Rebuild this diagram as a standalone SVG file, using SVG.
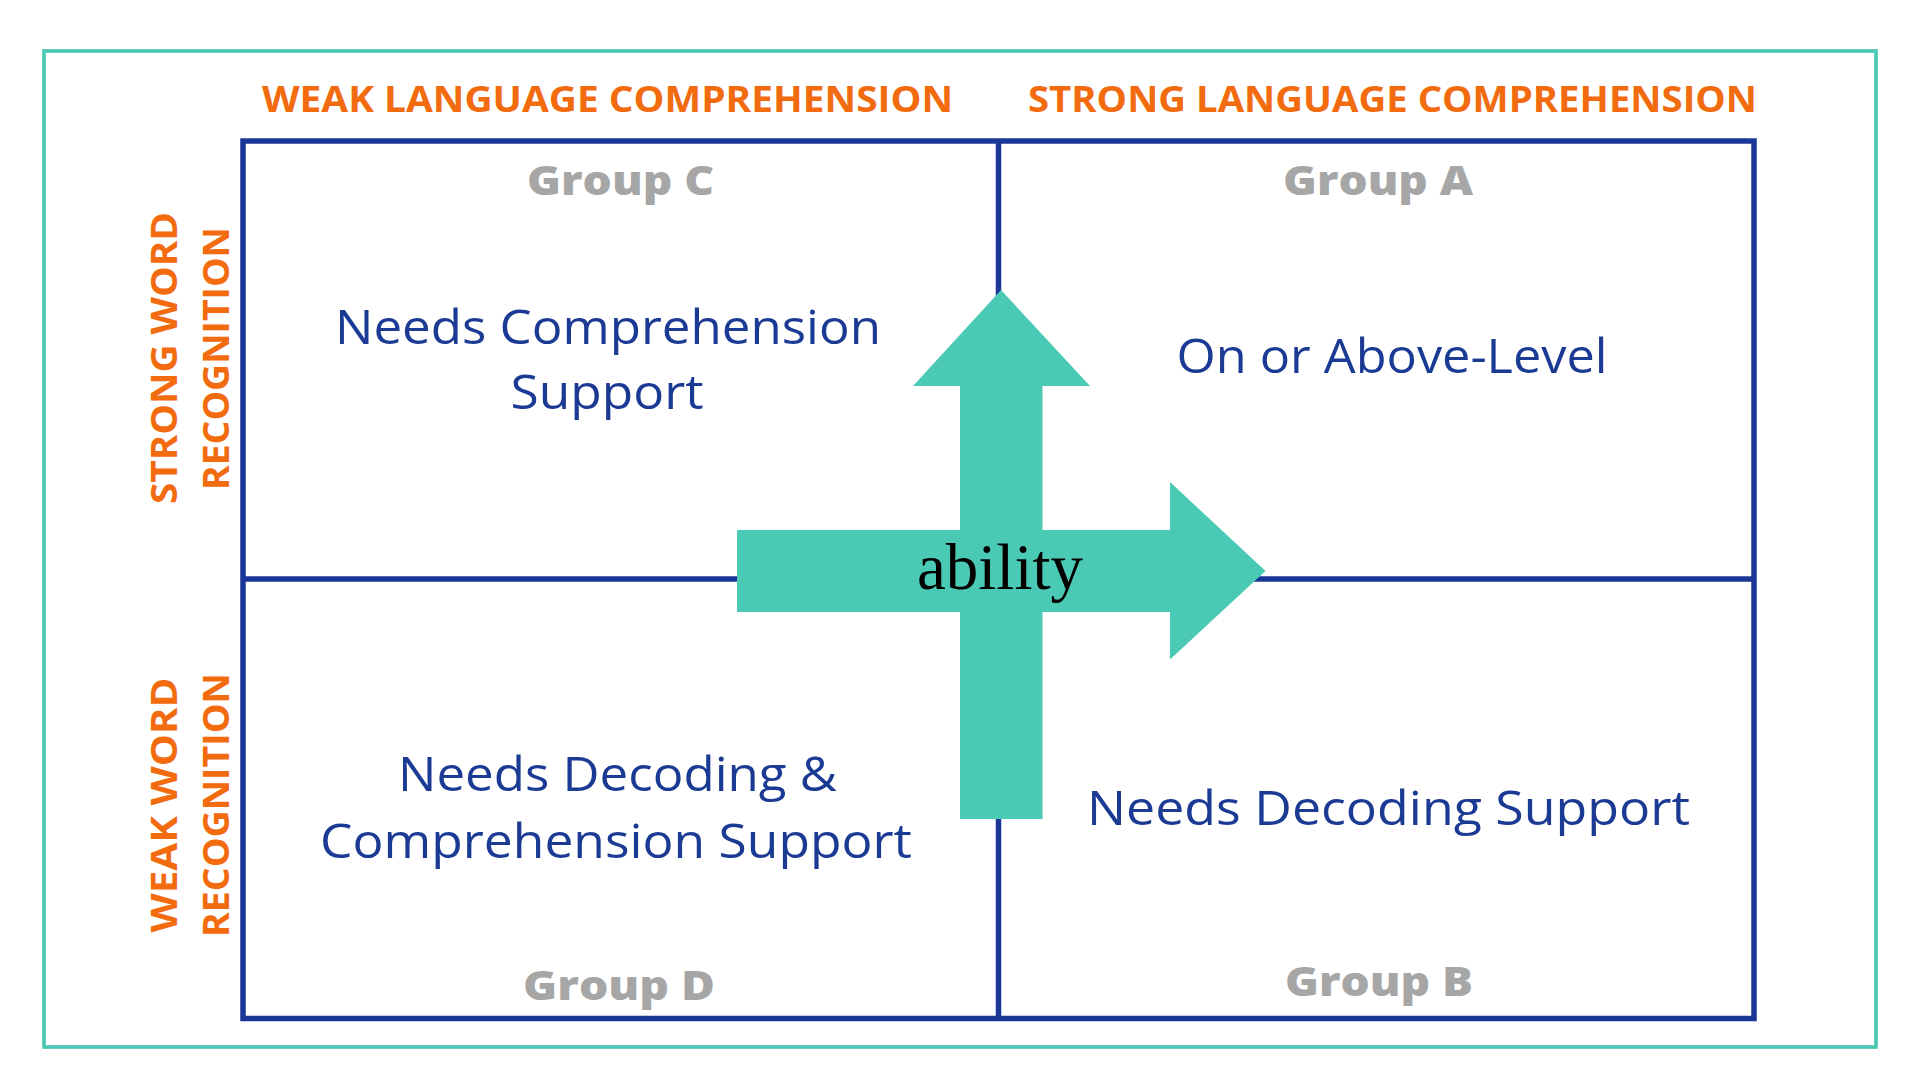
<svg xmlns="http://www.w3.org/2000/svg" width="1920" height="1080" viewBox="0 0 1920 1080">
<style>
.hdr{font-family:"Open Sans","Liberation Sans",sans-serif;font-weight:700;font-size:36px;fill:#F26B0E;text-anchor:middle}
.grp{font-family:"Open Sans","Liberation Sans",sans-serif;font-weight:800;font-size:40px;fill:#A6A6A6;text-anchor:middle}
.body{font-family:"Open Sans","Liberation Sans",sans-serif;font-weight:400;font-size:47px;fill:#1B3A94;text-anchor:middle}
.grid{fill:none;stroke:#1B3796;stroke-width:5.5}
.arrow{fill:#4AC9B4}
</style>
<rect x="0" y="0" width="1920" height="1080" fill="#FFFFFF"/>
<rect id="frame" x="44" y="51" width="1832" height="996" fill="none" stroke="#4CC9B5" stroke-width="3.7"/>

<g id="axes">
<text class="hdr" x="607.5" y="111.5" textLength="691" lengthAdjust="spacingAndGlyphs">WEAK LANGUAGE COMPREHENSION</text>
<text class="hdr" x="1392.5" y="111.5" textLength="729" lengthAdjust="spacingAndGlyphs">STRONG LANGUAGE COMPREHENSION</text>
<text class="hdr" transform="translate(177.3,358) rotate(-90)" textLength="292" lengthAdjust="spacingAndGlyphs">STRONG WORD</text>
<text class="hdr" transform="translate(229.3,358.5) rotate(-90)" textLength="263" lengthAdjust="spacingAndGlyphs">RECOGNITION</text>
<text class="hdr" transform="translate(177.3,805) rotate(-90)" textLength="255" lengthAdjust="spacingAndGlyphs">WEAK WORD</text>
<text class="hdr" transform="translate(229.3,805) rotate(-90)" textLength="264" lengthAdjust="spacingAndGlyphs">RECOGNITION</text>
</g>

<g id="grid">
<rect class="grid" x="243" y="141" width="1511" height="877.5"/>
<line class="grid" x1="998.5" y1="141" x2="998.5" y2="1018.5"/>
<line class="grid" x1="243" y1="579" x2="1754" y2="579"/>
</g>

<g id="groupC">
<text class="grp" x="620.5" y="195" textLength="187" lengthAdjust="spacingAndGlyphs">Group C</text>
<text class="body" x="608" y="344" textLength="546" lengthAdjust="spacingAndGlyphs">Needs Comprehension</text>
<text class="body" x="607" y="409" textLength="193" lengthAdjust="spacingAndGlyphs">Support</text>
</g>
<g id="groupA">
<text class="grp" x="1378" y="195" textLength="190" lengthAdjust="spacingAndGlyphs">Group A</text>
<text class="body" x="1392" y="373" textLength="431" lengthAdjust="spacingAndGlyphs">On or Above-Level</text>
</g>
<g id="groupD">
<text class="body" x="617.5" y="791" textLength="439" lengthAdjust="spacingAndGlyphs">Needs Decoding &amp;</text>
<text class="body" x="616" y="858" textLength="592" lengthAdjust="spacingAndGlyphs">Comprehension Support</text>
<text class="grp" x="619" y="1000" textLength="192" lengthAdjust="spacingAndGlyphs">Group D</text>
</g>
<g id="groupB">
<text class="body" x="1388.5" y="825" textLength="603" lengthAdjust="spacingAndGlyphs">Needs Decoding Support</text>
<text class="grp" x="1379" y="996" textLength="188" lengthAdjust="spacingAndGlyphs">Group B</text>
</g>

<g id="connectors">
<polygon class="arrow" points="1001,290 1090,386 1042.5,386 1042.5,819 960,819 960,386 913,386"/>
<polygon class="arrow" points="737,530 1170,530 1170,482 1265.5,571 1170,659.5 1170,612 737,612"/>
<text x="1000" y="589" text-anchor="middle" font-family="'Liberation Serif','DejaVu Serif',serif" font-size="65" fill="#000000">ability</text>
</g>
</svg>
